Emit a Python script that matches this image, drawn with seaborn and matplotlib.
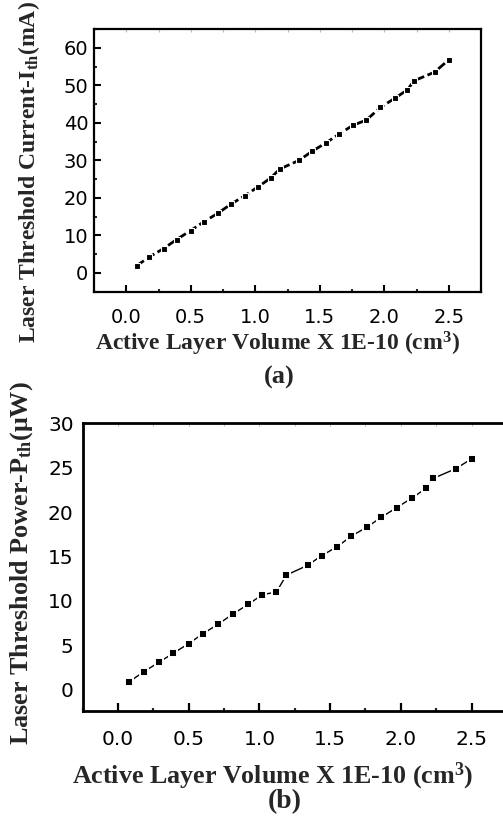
import matplotlib
matplotlib.use("Agg")
import matplotlib.pyplot as plt
import seaborn as sns
import numpy as np
from matplotlib.ticker import MultipleLocator

# ---- data ----
volume = [0.08, 0.18, 0.29, 0.39, 0.50, 0.60, 0.71, 0.81, 0.92, 1.02, 1.12, 1.19,
          1.34, 1.44, 1.55, 1.65, 1.76, 1.86, 1.97, 2.08, 2.18, 2.23, 2.39, 2.50]
current_ith = [1.9, 4.3, 6.5, 8.9, 11.3, 13.6, 15.9, 18.3, 20.6, 22.9, 25.3, 27.7,
               30.0, 32.4, 34.7, 37.0, 39.4, 40.7, 44.1, 46.5, 48.8, 51.2, 53.5, 56.8]
power_pth = [0.9, 2.0, 3.1, 4.1, 5.2, 6.3, 7.4, 8.5, 9.6, 10.7, 11.0, 12.9,
             14.0, 15.1, 16.1, 17.3, 18.3, 19.4, 20.5, 21.6, 22.7, 23.8, 24.9, 26.0]
xticks = [0.0, 0.5, 1.0, 1.5, 2.0, 2.5]
yticks_a = [0, 10, 20, 30, 40, 50, 60]
yticks_b = [0, 5, 10, 15, 20, 25, 30]

sns.set_style("ticks")
plt.rcParams['font.family'] = ['DejaVu Sans']
plt.rcParams['mathtext.fontset'] = 'custom'
plt.rcParams['mathtext.rm'] = 'Liberation Serif:bold'
plt.rcParams['mathtext.bf'] = 'Liberation Serif:bold'
plt.rcParams['mathtext.it'] = 'Liberation Serif:bold'

fig = plt.figure(figsize=(5.03, 8.18), dpi=100)
serif = dict(family='Liberation Serif', weight='bold')

# ---------- panel (a) ----------
ax1 = fig.add_axes([94/503, 1-291.7/818, 387/503, 262.7/818])
sns.lineplot(x=volume, y=current_ith, ax=ax1, color='black', linewidth=2.0,
             linestyle=(0, (3.2, 1.3)), marker='s', markersize=5.0,
             markerfacecolor='black', markeredgecolor='white', markeredgewidth=0.8)
ax1.set_xlim(-0.25, 2.75)
ax1.set_ylim(-5, 65)
ax1.set_xticks(xticks)
ax1.set_yticks(yticks_a)
ax1.set_xticklabels([f"{v:.1f}" for v in xticks])
ax1.xaxis.set_minor_locator(MultipleLocator(0.25))
ax1.yaxis.set_minor_locator(MultipleLocator(5))
for s in ax1.spines.values():
    s.set_linewidth(1.6)
    s.set_color('black')
ax1.tick_params(which='major', direction='in', length=5, width=1.5, labelsize=14,
                top=False, right=False, colors='black')
ax1.tick_params(axis='x', which='major', pad=12)
ax1.tick_params(axis='y', which='major', pad=4)
ax1.tick_params(which='minor', direction='in', length=2.5, width=1.5,
                top=False, right=False)
sec1 = ax1.secondary_xaxis('top')
sec1.set_xticks(xticks)
sec1.xaxis.set_minor_locator(MultipleLocator(0.25))
sec1.tick_params(which='both', direction='in', length=2, width=0.8, colors='#bbbbbb',
                 labeltop=False)
sec1.spines['top'].set_visible(False)
ax1.set_xlabel(r"Active Layer Volume X 1E-10 (cm$^{3}$)", fontsize=17, **serif)
ax1.set_ylabel(r"Laser Threshold Current-I$_{\mathrm{th}}$(mA)", fontsize=17, **serif)
ax1.xaxis.label.set_va('center')
ax1.yaxis.label.set_va('center')
ax1.xaxis.set_label_coords(0.475, -0.199)
ax1.yaxis.set_label_coords(-0.168, 0.456)
fig.text(279/503, 1-377/818, "(a)", ha='center', va='center', fontsize=19, **serif)

# ---------- panel (b) ----------
ax2 = fig.add_axes([82.7/503, 1-711/818, 424.2/503, 287.7/818])
sns.lineplot(x=volume, y=power_pth, ax=ax2, color='black', linewidth=1.0,
             marker='s', markersize=5.6,
             markerfacecolor='black', markeredgecolor='white', markeredgewidth=1.4)
ax2.set_xlim(-0.25, 2.75)
ax2.set_ylim(-2.4, 30)
ax2.set_xticks(xticks)
ax2.set_yticks(yticks_b)
ax2.set_xticklabels([f"{v:.1f}" for v in xticks])
ax2.xaxis.set_minor_locator(MultipleLocator(0.25))
for s in ax2.spines.values():
    s.set_linewidth(2.0)
    s.set_color('black')
ax2.tick_params(axis='x', which='major', direction='in', length=5.5, width=1.6,
                labelsize=14.5, pad=14, colors='black')
ax2.tick_params(axis='x', which='minor', direction='in', length=2.5, width=1.6)
ax2.tick_params(axis='y', which='major', length=0, labelsize=14.5, pad=6.5, colors='black')
sec2 = ax2.secondary_xaxis('top')
sec2.set_xticks(xticks)
sec2.xaxis.set_minor_locator(MultipleLocator(0.25))
sec2.tick_params(which='both', direction='in', length=2, width=0.8, colors='#bbbbbb',
                 labeltop=False)
sec2.spines['top'].set_visible(False)
ax2.set_xlabel(r"Active Layer Volume X 1E-10 (cm$^{3}$)", fontsize=18.7, **serif)
ax2.set_ylabel(r"Laser Threshold Power-P$_{\mathrm{th}}$(μW)", fontsize=18.8, **serif)
ax2.xaxis.label.set_va('center')
ax2.yaxis.label.set_va('center')
ax2.xaxis.set_label_coords(0.449, -0.226)
ax2.yaxis.set_label_coords(-0.143, 0.514)
fig.text(285/503, 1-802/818, "(b)", ha='center', va='center', fontsize=20, **serif)

fig.savefig("out.png", dpi=100)
